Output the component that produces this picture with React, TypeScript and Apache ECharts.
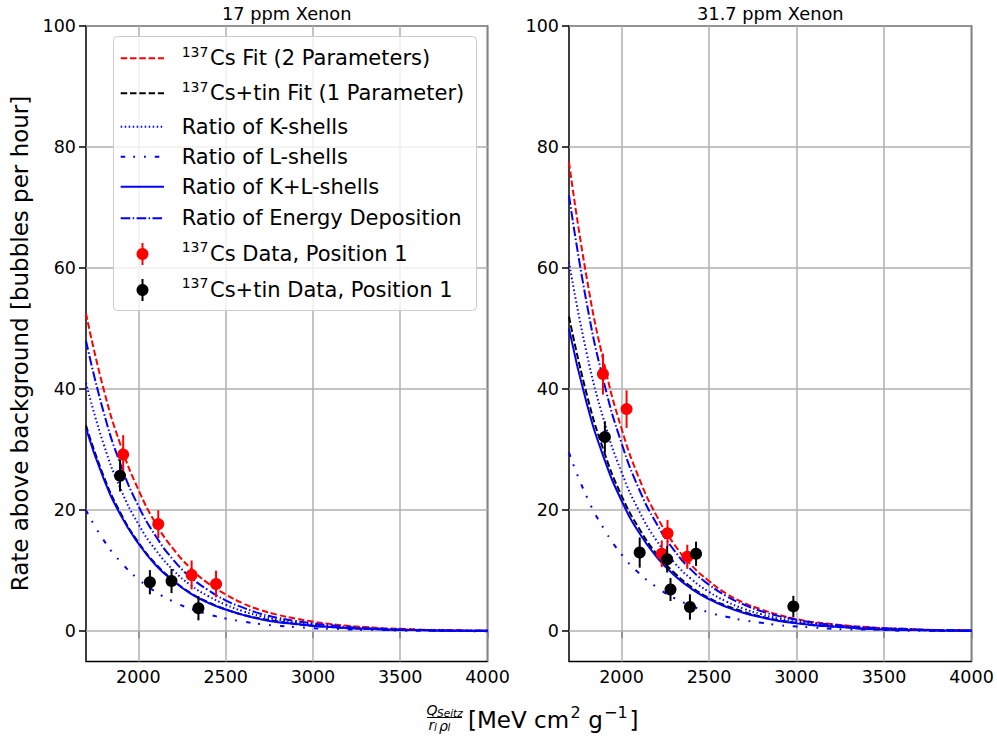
import React, { useEffect, useRef } from "react";
import * as echarts from "echarts";

// ---------- data ----------
const xs = [1700, 1800, 1900, 2000, 2100, 2200, 2300, 2400, 2500, 2600, 2700, 2800, 2900, 3000, 3100, 3200, 3300, 3400, 3500, 3600, 3700, 3800, 3900, 4000];
const xTicks = [2000, 2500, 3000, 3500, 4000];
const yTicks = [0, 20, 40, 60, 80, 100];
const panelTitles = ["17 ppm Xenon", "31.7 ppm Xenon"];

// 17 ppm panel curves
const leftCsFit = [52.5, 40.1, 30.6, 23.4, 17.8, 13.6, 10.4, 7.9, 6.1, 4.6, 3.5, 2.7, 2.1, 1.6, 1.2, 0.9, 0.7, 0.5, 0.4, 0.3, 0.2, 0.2, 0.1, 0.1];
const leftTinFit = [34, 25.7, 19.4, 14.7, 11.1, 8.4, 6.3, 4.8, 3.6, 2.7, 2.1, 1.6, 1.2, 0.9, 0.7, 0.5, 0.4, 0.3, 0.2, 0.2, 0.1, 0.1, 0.1, 0.1];
const leftK = [41, 31.0, 23.4, 17.7, 13.4, 10.1, 7.6, 5.8, 4.4, 3.3, 2.5, 1.9, 1.4, 1.1, 0.8, 0.6, 0.5, 0.4, 0.3, 0.2, 0.2, 0.1, 0.1, 0.1];
const leftL = [20, 15.1, 11.4, 8.6, 6.5, 4.9, 3.7, 2.8, 2.1, 1.6, 1.2, 0.9, 0.7, 0.5, 0.4, 0.3, 0.2, 0.2, 0.1, 0.1, 0.1, 0.1, 0.0, 0.0];
const leftKL = [33.5, 25.3, 19.1, 14.5, 10.9, 8.3, 6.2, 4.7, 3.6, 2.7, 2.0, 1.5, 1.2, 0.9, 0.7, 0.5, 0.4, 0.3, 0.2, 0.2, 0.1, 0.1, 0.1, 0.1];
const leftE = [48, 36.3, 27.4, 20.7, 15.7, 11.8, 8.9, 6.8, 5.1, 3.9, 2.9, 2.2, 1.7, 1.3, 1.0, 0.7, 0.5, 0.4, 0.3, 0.2, 0.2, 0.1, 0.1, 0.1];

// 31.7 ppm panel curves
const rightCsFit = [77.5, 58.6, 44.3, 33.5, 25.3, 19.1, 14.4, 10.9, 8.3, 6.2, 4.7, 3.6, 2.7, 2.0, 1.5, 1.2, 0.9, 0.7, 0.5, 0.4, 0.3, 0.2, 0.2, 0.1];
const rightTinFit = [52, 39.3, 29.7, 22.4, 17.0, 12.8, 9.7, 7.3, 5.5, 4.2, 3.2, 2.4, 1.8, 1.4, 1.0, 0.8, 0.6, 0.4, 0.3, 0.3, 0.2, 0.1, 0.1, 0.1];
const rightK = [61, 46.1, 34.8, 26.3, 19.9, 15.0, 11.4, 8.6, 6.5, 4.9, 3.7, 2.8, 2.1, 1.6, 1.2, 0.9, 0.7, 0.5, 0.4, 0.3, 0.2, 0.2, 0.1, 0.1];
const rightL = [29.5, 22.3, 16.9, 12.7, 9.6, 7.3, 5.5, 4.2, 3.1, 2.4, 1.8, 1.4, 1.0, 0.8, 0.6, 0.4, 0.3, 0.3, 0.2, 0.1, 0.1, 0.1, 0.1, 0.0];
const rightKL = [50, 37.8, 28.6, 21.6, 16.3, 12.3, 9.3, 7.0, 5.3, 4.0, 3.0, 2.3, 1.7, 1.3, 1.0, 0.8, 0.6, 0.4, 0.3, 0.2, 0.2, 0.1, 0.1, 0.1];
const rightE = [72, 54.4, 41.1, 31.1, 23.5, 17.8, 13.4, 10.1, 7.7, 5.8, 4.4, 3.3, 2.5, 1.9, 1.4, 1.1, 0.8, 0.6, 0.5, 0.4, 0.3, 0.2, 0.2, 0.1];

// data points
const leftCsX = [1913, 2114, 2305, 2445];
const leftCsY = [29.2, 17.7, 9.3, 7.8];
const leftCsErr = [3.2, 2.3, 2.4, 2.2];
const leftTinX = [1895, 2066, 2190, 2344];
const leftTinY = [25.7, 8.1, 8.3, 3.8];
const leftTinErr = [2.6, 2.0, 2.0, 2.0];

const rightCsX = [1894, 2029, 2230, 2263, 2376];
const rightCsY = [42.5, 36.7, 12.8, 16.2, 12.3];
const rightCsErr = [3.4, 3.1, 2.2, 2.2, 2.0];
const rightTinX = [1905, 2104, 2261, 2426, 2280, 2391, 2982];
const rightTinY = [32.1, 13.0, 11.9, 12.8, 6.9, 4.0, 4.1];
const rightTinErr = [2.6, 2.5, 2.2, 2.0, 1.9, 2.1, 1.75];

const legendSups = ["137", "137", "", "", "", "", "137", "137"];
const legendTexts = [
  "Cs Fit (2 Parameters)",
  "Cs+tin Fit (1 Parameter)",
  "Ratio of K-shells",
  "Ratio of L-shells",
  "Ratio of K+L-shells",
  "Ratio of Energy Deposition",
  "Cs Data, Position 1",
  "Cs+tin Data, Position 1",
];

// ---------- styles ----------
const FONT = '"DejaVu Sans", "Liberation Sans", sans-serif';
const RED = "#ff0000";
const BLUE = "#0000ff";
const BLACK = "#000000";
const curveStyles: any[] = [
  { color: RED, type: [6.5, 2.8] },
  { color: BLACK, type: [6.5, 2.8] },
  { color: BLUE, type: [1.5, 2.5] },
  { color: BLUE, type: [4.5, 8, 1.8, 9, 1.8, 9] },
  { color: BLUE, type: "solid" },
  { color: BLUE, type: [9.6, 2.4, 1.5, 2.4] },
];

const GRID_TOP = 26;
const GRID_H = 635.5;
const GRIDS = [
  { left: 86, top: GRID_TOP, width: 401.5, height: GRID_H },
  { left: 569, top: GRID_TOP, width: 402.5, height: GRID_H },
];

function pairs(xArr: number[], yArr: number[]) {
  return xArr.map((x, i) => [x, yArr[i]]);
}
function triples(xArr: number[], yArr: number[], eArr: number[]) {
  return xArr.map((x, i) => [x, yArr[i], eArr[i]]);
}

function errorSeries(idx: number, data: number[][], color: string, z: number) {
  return {
    type: "custom",
    xAxisIndex: idx,
    yAxisIndex: idx,
    z,
    silent: true,
    data,
    encode: { x: 0, y: 1 },
    renderItem: (params: any, api: any) => {
      const x = api.value(0);
      const y = api.value(1);
      const e = api.value(2);
      const p1 = api.coord([x, y + e]);
      const p2 = api.coord([x, y - e]);
      return {
        type: "line",
        shape: { x1: p1[0], y1: p1[1], x2: p2[0], y2: p2[1] },
        style: { stroke: color, lineWidth: 2 },
      };
    },
  };
}

function panelSeries(idx: number, curves: number[][], cs: number[][], tin: number[][]) {
  const out: any[] = [];
  curves.forEach((c, k) => {
    const s: any = {
      type: "line",
      xAxisIndex: idx,
      yAxisIndex: idx,
      data: pairs(xs, c),
      smooth: 0.5,
      showSymbol: false,
      symbol: "none",
      silent: true,
      z: 2,
      lineStyle: { color: curveStyles[k].color, width: 2, type: curveStyles[k].type, cap: "butt" },
    };
    if (k === 0) {
      s.markLine = {
        silent: true,
        z: 1,
        symbol: ["none", "none"],
        label: { show: false },
        lineStyle: { color: "#b0b0b0", width: 1.5, type: "solid" },
        data: [
          ...yTicks.map((v) => ({ yAxis: v })),
          ...xTicks.map((v) => ({ xAxis: v })),
        ],
      };
    }
    out.push(s);
  });
  out.push(errorSeries(idx, cs, RED, 4));
  out.push({
    type: "scatter",
    xAxisIndex: idx,
    yAxisIndex: idx,
    z: 5,
    silent: true,
    symbol: "circle",
    symbolSize: 12,
    itemStyle: { color: RED, opacity: 1 },
    data: cs.map((d) => [d[0], d[1]]),
  });
  out.push(errorSeries(idx, tin, BLACK, 6));
  out.push({
    type: "scatter",
    xAxisIndex: idx,
    yAxisIndex: idx,
    z: 7,
    silent: true,
    symbol: "circle",
    symbolSize: 12,
    itemStyle: { color: BLACK, opacity: 1 },
    data: tin.map((d) => [d[0], d[1]]),
  });
  return out;
}

function txt(text: string, x: number, y: number, font: string, align = "left", extra: any = {}) {
  return {
    type: "text",
    x,
    y,
    z: 101,
    silent: true,
    ...extra,
    style: {
      text,
      font,
      fill: "#000",
      align,
      textAlign: align,
      verticalAlign: "middle",
      textVerticalAlign: "middle",
    },
  };
}

function buildGraphics() {
  const g: any[] = [];
  // y axis label
  g.push(txt("Rate above background [bubbles per hour]", 20, 343.5, `23px ${FONT}`, "center", { rotation: Math.PI / 2 }));
  // titles
  g.push(txt(panelTitles[0], 286.7, 13.5, `17.8px ${FONT}`, "center"));
  g.push(txt(panelTitles[1], 770.3, 13.5, `17.8px ${FONT}`, "center"));
  // x label: fraction
  g.push({ type: "line", z: 101, silent: true, shape: { x1: 427, y1: 717.5, x2: 462, y2: 717.5 }, style: { stroke: "#000", lineWidth: 1 } });
  g.push(txt("Q", 426.5, 710, `italic 14px ${FONT}`));
  g.push(txt("Seitz", 437, 713, `italic 10.5px ${FONT}`));
  g.push(txt("r", 428.5, 725, `italic 14px ${FONT}`));
  g.push(txt("l", 434, 727.5, `italic 10px ${FONT}`));
  g.push(txt("ρ", 439, 725.5, `italic 14px ${FONT}`));
  g.push(txt("l", 447.5, 727.5, `italic 10px ${FONT}`));
  // x label: units
  g.push(txt("[MeV cm", 468, 720, `23px ${FONT}`));
  g.push(txt("2", 570.5, 712, `16px ${FONT}`));
  g.push(txt(" g", 581, 720, `23px ${FONT}`));
  g.push(txt("\u22121", 604, 712, `16px ${FONT}`));
  g.push(txt("]", 629.5, 720, `23px ${FONT}`));

  // legend
  g.push({
    type: "rect",
    z: 100,
    silent: true,
    shape: { x: 113.5, y: 36.5, width: 363, height: 274, r: 4 },
    style: { fill: "rgba(255,255,255,0.8)", stroke: "#cccccc", lineWidth: 1 },
  });
  const rowY = [58.3, 93.3, 126.7, 156.7, 186.7, 218.3, 254, 290];
  for (let i = 0; i < 8; i++) {
    const y = rowY[i];
    if (i < 6) {
      const st = curveStyles[i];
      g.push({
        type: "line",
        z: 101,
        silent: true,
        shape: { x1: 120.7, y1: y, x2: 164, y2: y },
        style: {
          stroke: st.color,
          lineWidth: 2,
          lineDash: st.type === "solid" ? null : st.type,
          lineCap: "butt",
        },
      });
    } else {
      const col = i === 6 ? RED : BLACK;
      g.push({ type: "line", z: 101, silent: true, shape: { x1: 142.5, y1: y - 11, x2: 142.5, y2: y + 11 }, style: { stroke: col, lineWidth: 2 } });
      g.push({ type: "circle", z: 102, silent: true, shape: { cx: 142.5, cy: y, r: 6 }, style: { fill: col } });
    }
    if (legendSups[i]) {
      g.push(txt(legendSups[i], 181.7, y - 6.8, `14px ${FONT}`));
      g.push(txt(legendTexts[i], 210, y, `21px ${FONT}`));
    } else {
      g.push(txt(legendTexts[i], 181.7, y, `21px ${FONT}`));
    }
  }
  return g;
}

function axisPair(idx: number) {
  const common = {
    gridIndex: idx,
    type: "value",
    axisLine: { show: false },
    splitLine: { show: false },
    axisTick: { show: true, length: 7, lineStyle: { color: "#000", width: 1.5 } },
    axisLabel: { show: true, color: "#000", fontSize: 17.5, fontFamily: FONT, formatter: (v: number) => String(v) },
  };
  const xAxis = {
    ...common,
    min: 1700,
    max: 4000,
    axisTick: { ...common.axisTick, customValues: xTicks },
    axisLabel: { ...common.axisLabel, customValues: xTicks, margin: 6 },
  };
  const yAxis = {
    ...common,
    min: -5,
    max: 100,
    axisTick: { ...common.axisTick, customValues: yTicks },
    axisLabel: { ...common.axisLabel, customValues: yTicks, margin: 10 },
  };
  return { xAxis, yAxis };
}

export default function App() {
  const ref = useRef<HTMLDivElement>(null);
  useEffect(() => {
    document.body.style.margin = "0";
    if (!ref.current) return;
    const chart = echarts.init(ref.current, null, { renderer: "svg" });
    const a0 = axisPair(0);
    const a1 = axisPair(1);
    const option: any = {
      animation: false,
      backgroundColor: "#ffffff",
      grid: GRIDS.map((g) => ({ ...g, show: true, borderColor: "#000", borderWidth: 1.5, backgroundColor: "transparent", containLabel: false })),
      xAxis: [a0.xAxis, a1.xAxis],
      yAxis: [a0.yAxis, a1.yAxis],
      series: [
        ...panelSeries(0, [leftCsFit, leftTinFit, leftK, leftL, leftKL, leftE], triples(leftCsX, leftCsY, leftCsErr), triples(leftTinX, leftTinY, leftTinErr)),
        ...panelSeries(1, [rightCsFit, rightTinFit, rightK, rightL, rightKL, rightE], triples(rightCsX, rightCsY, rightCsErr), triples(rightTinX, rightTinY, rightTinErr)),
      ],
      graphic: { elements: buildGraphics() },
    };
    chart.setOption(option);
    return () => chart.dispose();
  }, []);
  return <div ref={ref} style={{ width: 997, height: 747 }} />;
}
